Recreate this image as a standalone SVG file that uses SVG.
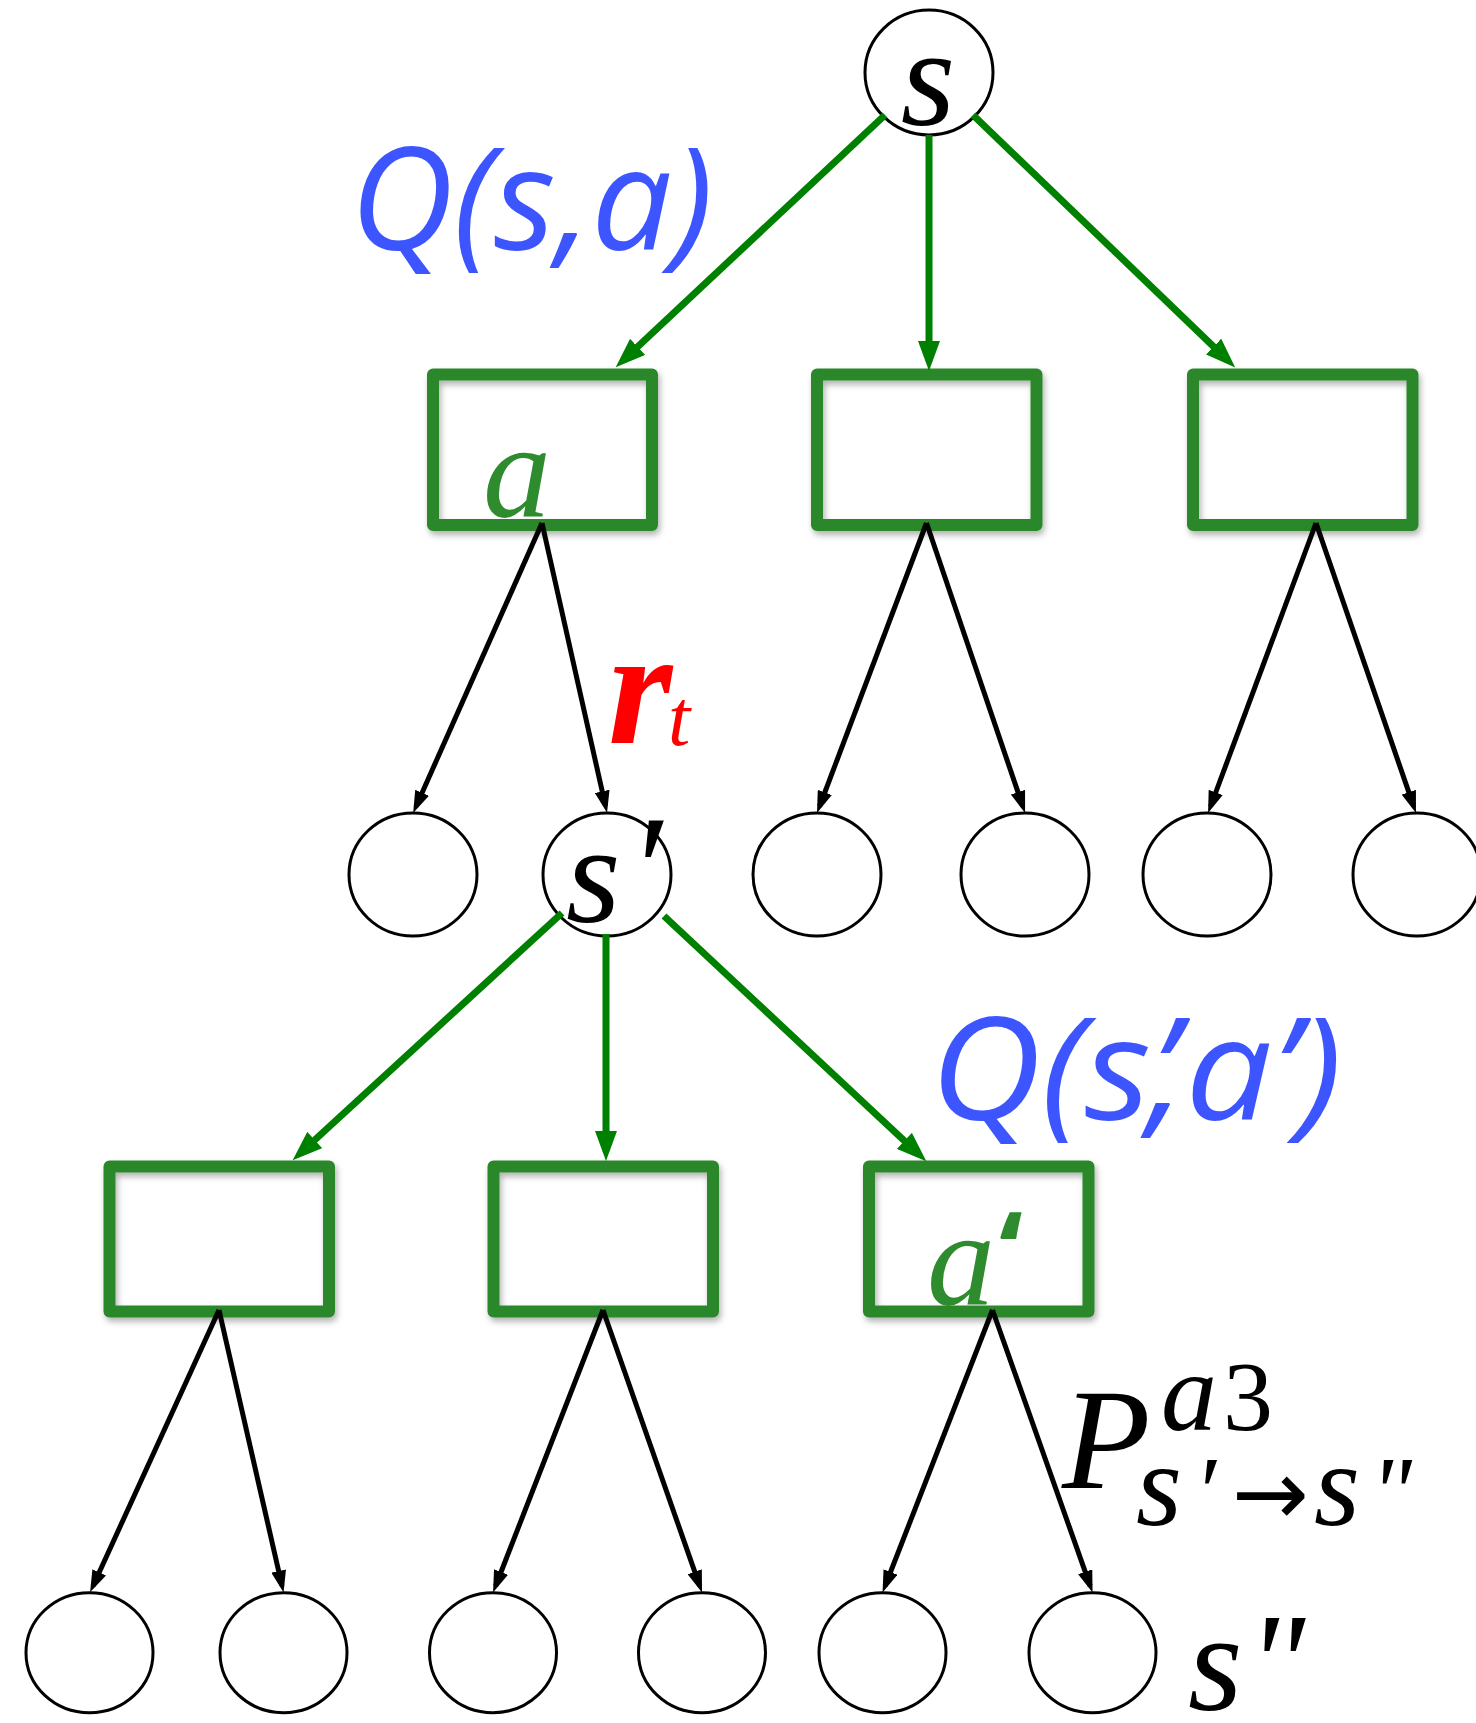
<svg xmlns="http://www.w3.org/2000/svg" width="1476" height="1723" viewBox="0 0 1476 1723">
<style>
.box{fill:none;stroke:#2b872b;stroke-width:12;stroke-linejoin:round;filter:url(#sh)}
.st{fill:#fff;stroke:#000;stroke-width:3}
.g{fill:none;stroke:#008000;stroke-width:7;marker-end:url(#ga)}
.k{fill:none;stroke:#000;stroke-width:5;marker-end:url(#ka)}
.m{font-family:"Liberation Serif","DejaVu Serif",serif;font-style:italic}
.q{font-family:"Open Sans","Noto Sans",sans-serif;font-style:italic;fill:#3d55ff;font-size:143px}
</style>
<defs>
<filter id="sh" x="-10%" y="-10%" width="125%" height="130%">
<feDropShadow dx="2" dy="4" stdDeviation="3" flood-color="#000" flood-opacity="0.3"/>
</filter>
<marker id="ga" markerUnits="userSpaceOnUse" markerWidth="30" markerHeight="22" viewBox="0 0 30 22" refX="20" refY="11" orient="auto">
<path d="M0,0 L30,11 L0,22 z" fill="#008000"/>
</marker>
<marker id="ka" markerUnits="userSpaceOnUse" markerWidth="22" markerHeight="15" viewBox="0 0 22 15" refX="15" refY="7.5" orient="auto">
<path d="M0,0 L22,7.5 L0,15 z" fill="#000"/>
</marker>
</defs>
<rect width="1476" height="1723" fill="#fff"/>

<g id="state-s">
<ellipse class="st" cx="929" cy="72.5" rx="64" ry="62.5"/>
<text class="m" x="928" y="125" font-size="140" text-anchor="middle">s</text>
</g>
<g id="action-a1">
<rect class="box" x="433" y="374.5" width="219" height="150.5"/>
<text class="m" x="483" y="517" font-size="136" fill="#2e8b2e">a</text>
</g>
<g id="action-a2"><rect class="box" x="817" y="374.5" width="219.5" height="150.5"/></g>
<g id="action-a3"><rect class="box" x="1193" y="374.5" width="219.5" height="150.5"/></g>

<g id="mid-1"><ellipse class="st" cx="413" cy="874.5" rx="64" ry="61.5"/></g>
<g id="state-s-prime">
<ellipse class="st" cx="607" cy="874.5" rx="64" ry="61.5"/>
<text class="m" x="566" y="922" font-size="140">s<tspan x="628" y="922" font-size="155">′</tspan></text>
</g>
<g id="mid-3"><ellipse class="st" cx="817" cy="874.5" rx="64" ry="61.5"/></g>
<g id="mid-4"><ellipse class="st" cx="1025" cy="874.5" rx="64" ry="61.5"/></g>
<g id="mid-5"><ellipse class="st" cx="1207" cy="874.5" rx="64" ry="61.5"/></g>
<g id="mid-6"><ellipse class="st" cx="1417" cy="874.5" rx="64" ry="61.5"/></g>

<g id="action-b1"><rect class="box" x="109.5" y="1166.5" width="219.5" height="145"/></g>
<g id="action-b2"><rect class="box" x="493.5" y="1166.5" width="219.5" height="145"/></g>
<g id="action-b3">
<rect class="box" x="869" y="1166.5" width="219.5" height="145"/>
<text class="m" x="927" y="1305" font-size="136" fill="#2e8b2e">a<tspan x="999" y="1290" font-family="Open Sans, sans-serif" font-style="normal" font-weight="bold" font-size="110">‘</tspan></text>
</g>

<g id="leaf-1"><ellipse class="st" cx="89.5" cy="1652.7" rx="63.5" ry="60"/></g>
<g id="leaf-2"><ellipse class="st" cx="283.5" cy="1652.7" rx="63.5" ry="60"/></g>
<g id="leaf-3"><ellipse class="st" cx="493" cy="1652.7" rx="63.5" ry="60"/></g>
<g id="leaf-4"><ellipse class="st" cx="702" cy="1652.7" rx="63.5" ry="60"/></g>
<g id="leaf-5"><ellipse class="st" cx="882.5" cy="1652.7" rx="63.5" ry="60"/></g>
<g id="leaf-6"><ellipse class="st" cx="1092.5" cy="1652.7" rx="63.5" ry="60"/></g>

<g id="connectors">
<path class="g" d="M885,115 L623,360.5"/>
<path class="g" d="M929,135 L929,361"/>
<path class="g" d="M973,115 L1228,360.5"/>
<path class="g" d="M562,913 L300,1153.5"/>
<path class="g" d="M606,934 L606,1151"/>
<path class="g" d="M664,916 L919,1154.5"/>

<path class="k" d="M542,523 L416,806.5"/>
<path class="k" d="M542,523 L605.5,806"/>
<path class="k" d="M926.5,523 L819.5,806.5"/>
<path class="k" d="M926.5,523 L1022.8,806.4"/>
<path class="k" d="M1316,523 L1210.5,806.5"/>
<path class="k" d="M1316,523 L1413.7,806.4"/>

<path class="k" d="M219,1310 L93,1586"/>
<path class="k" d="M219,1310 L282,1585.7"/>
<path class="k" d="M603,1310 L495.6,1586"/>
<path class="k" d="M603,1310 L699.7,1585.9"/>
<path class="k" d="M992.5,1310 L885.1,1586"/>
<path class="k" d="M992.5,1310 L1090.2,1585.9"/>
</g>

<g id="labels">
<text class="q" x="350" y="250" textLength="363" lengthAdjust="spacingAndGlyphs">Q(s,a)</text>
<text class="q" x="930" y="1120" textLength="412" lengthAdjust="spacingAndGlyphs">Q(s’<tspan dx="-28">,a’)</tspan></text>
<text class="m" x="608" y="743" font-size="165" font-weight="bold" fill="#ff0000">r<tspan x="668" y="745" font-size="80" font-weight="normal">t</tspan></text>
<text class="m" x="1062" y="1488" font-size="145">P<tspan x="1161" y="1430" font-size="112">a</tspan><tspan x="1223" y="1430" font-size="100" font-style="normal">3</tspan><tspan x="1136" y="1525" font-size="118">s</tspan><tspan x="1194" y="1525" font-size="100">′</tspan><tspan x="1232" y="1525" font-size="92" font-family="DejaVu Sans, sans-serif" font-style="normal">→</tspan><tspan x="1314" y="1525" font-size="118">s</tspan><tspan x="1370" y="1525" font-size="100">"</tspan></text>
<text class="m" x="1188" y="1710" font-size="140">s<tspan dx="4">"</tspan></text>
</g>
</svg>
